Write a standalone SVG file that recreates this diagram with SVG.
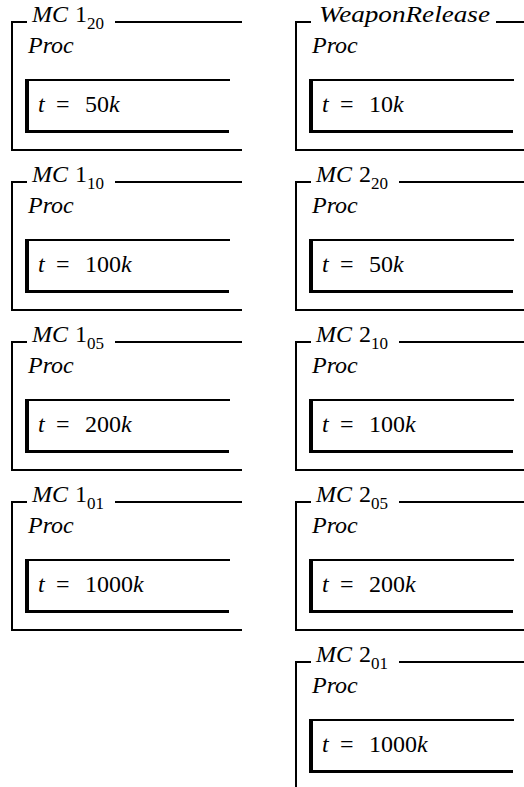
<svg xmlns="http://www.w3.org/2000/svg" width="524" height="787" viewBox="0 0 524 787">
<rect x="0" y="0" width="524" height="787" fill="#fff"/>
<g id="connectors"/>
<g id="MC1_20" fill="#000">
<path d="M11 21h16v2h-16zM115 21h127v2h-127zM11 21h2v130h-2zM11 149h231v2h-231zM25 79h205v2h-205zM25 79h4v54h-4zM25 130h204v3h-204z"/>
<text x="32" y="22" font-family="Liberation Serif" font-size="24" font-style="italic">MC</text>
<text x="75" y="22" font-family="Liberation Serif" font-size="24">1</text>
<text x="87" y="29" font-family="Liberation Serif" font-size="17">20</text>
<text x="28" y="53" font-family="Liberation Serif" font-size="24" font-style="italic">Proc</text>
<text x="38" y="112" font-family="Liberation Serif" font-size="24" font-style="italic">t</text>
<text x="56" y="112" font-family="Liberation Serif" font-size="24">=</text>
<text x="85" y="112" font-family="Liberation Serif" font-size="24">50</text>
<text x="109" y="112" font-family="Liberation Serif" font-size="24" font-style="italic">k</text>
</g>
<g id="MC1_10" fill="#000">
<path d="M11 181h16v2h-16zM115 181h127v2h-127zM11 181h2v130h-2zM11 309h231v2h-231zM25 239h205v2h-205zM25 239h4v54h-4zM25 290h204v3h-204z"/>
<text x="32" y="182" font-family="Liberation Serif" font-size="24" font-style="italic">MC</text>
<text x="75" y="182" font-family="Liberation Serif" font-size="24">1</text>
<text x="87" y="189" font-family="Liberation Serif" font-size="17">10</text>
<text x="28" y="213" font-family="Liberation Serif" font-size="24" font-style="italic">Proc</text>
<text x="38" y="272" font-family="Liberation Serif" font-size="24" font-style="italic">t</text>
<text x="56" y="272" font-family="Liberation Serif" font-size="24">=</text>
<text x="85" y="272" font-family="Liberation Serif" font-size="24">100</text>
<text x="121" y="272" font-family="Liberation Serif" font-size="24" font-style="italic">k</text>
</g>
<g id="MC1_05" fill="#000">
<path d="M11 341h16v2h-16zM115 341h127v2h-127zM11 341h2v130h-2zM11 469h231v2h-231zM25 399h205v2h-205zM25 399h4v54h-4zM25 450h204v3h-204z"/>
<text x="32" y="342" font-family="Liberation Serif" font-size="24" font-style="italic">MC</text>
<text x="75" y="342" font-family="Liberation Serif" font-size="24">1</text>
<text x="87" y="349" font-family="Liberation Serif" font-size="17">05</text>
<text x="28" y="373" font-family="Liberation Serif" font-size="24" font-style="italic">Proc</text>
<text x="38" y="432" font-family="Liberation Serif" font-size="24" font-style="italic">t</text>
<text x="56" y="432" font-family="Liberation Serif" font-size="24">=</text>
<text x="85" y="432" font-family="Liberation Serif" font-size="24">200</text>
<text x="121" y="432" font-family="Liberation Serif" font-size="24" font-style="italic">k</text>
</g>
<g id="MC1_01" fill="#000">
<path d="M11 501h16v2h-16zM115 501h127v2h-127zM11 501h2v130h-2zM11 629h231v2h-231zM25 559h205v2h-205zM25 559h4v54h-4zM25 610h204v3h-204z"/>
<text x="32" y="502" font-family="Liberation Serif" font-size="24" font-style="italic">MC</text>
<text x="75" y="502" font-family="Liberation Serif" font-size="24">1</text>
<text x="87" y="509" font-family="Liberation Serif" font-size="17">01</text>
<text x="28" y="533" font-family="Liberation Serif" font-size="24" font-style="italic">Proc</text>
<text x="38" y="592" font-family="Liberation Serif" font-size="24" font-style="italic">t</text>
<text x="56" y="592" font-family="Liberation Serif" font-size="24">=</text>
<text x="85" y="592" font-family="Liberation Serif" font-size="24">1000</text>
<text x="133" y="592" font-family="Liberation Serif" font-size="24" font-style="italic">k</text>
</g>
<g id="WeaponRelease" fill="#000">
<path d="M295 21h16v2h-16zM496 21h30v2h-30zM295 21h2v130h-2zM295 149h231v2h-231zM309 79h205v2h-205zM309 79h4v54h-4zM309 130h204v3h-204z"/>
<text x="319" y="22" font-family="Liberation Serif" font-size="24" font-style="italic" textLength="171" lengthAdjust="spacingAndGlyphs">WeaponRelease</text>
<text x="312" y="53" font-family="Liberation Serif" font-size="24" font-style="italic">Proc</text>
<text x="322" y="112" font-family="Liberation Serif" font-size="24" font-style="italic">t</text>
<text x="340" y="112" font-family="Liberation Serif" font-size="24">=</text>
<text x="369" y="112" font-family="Liberation Serif" font-size="24">10</text>
<text x="393" y="112" font-family="Liberation Serif" font-size="24" font-style="italic">k</text>
</g>
<g id="MC2_20" fill="#000">
<path d="M295 181h16v2h-16zM399 181h127v2h-127zM295 181h2v130h-2zM295 309h231v2h-231zM309 239h205v2h-205zM309 239h4v54h-4zM309 290h204v3h-204z"/>
<text x="316" y="182" font-family="Liberation Serif" font-size="24" font-style="italic">MC</text>
<text x="359" y="182" font-family="Liberation Serif" font-size="24">2</text>
<text x="371" y="189" font-family="Liberation Serif" font-size="17">20</text>
<text x="312" y="213" font-family="Liberation Serif" font-size="24" font-style="italic">Proc</text>
<text x="322" y="272" font-family="Liberation Serif" font-size="24" font-style="italic">t</text>
<text x="340" y="272" font-family="Liberation Serif" font-size="24">=</text>
<text x="369" y="272" font-family="Liberation Serif" font-size="24">50</text>
<text x="393" y="272" font-family="Liberation Serif" font-size="24" font-style="italic">k</text>
</g>
<g id="MC2_10" fill="#000">
<path d="M295 341h16v2h-16zM399 341h127v2h-127zM295 341h2v130h-2zM295 469h231v2h-231zM309 399h205v2h-205zM309 399h4v54h-4zM309 450h204v3h-204z"/>
<text x="316" y="342" font-family="Liberation Serif" font-size="24" font-style="italic">MC</text>
<text x="359" y="342" font-family="Liberation Serif" font-size="24">2</text>
<text x="371" y="349" font-family="Liberation Serif" font-size="17">10</text>
<text x="312" y="373" font-family="Liberation Serif" font-size="24" font-style="italic">Proc</text>
<text x="322" y="432" font-family="Liberation Serif" font-size="24" font-style="italic">t</text>
<text x="340" y="432" font-family="Liberation Serif" font-size="24">=</text>
<text x="369" y="432" font-family="Liberation Serif" font-size="24">100</text>
<text x="405" y="432" font-family="Liberation Serif" font-size="24" font-style="italic">k</text>
</g>
<g id="MC2_05" fill="#000">
<path d="M295 501h16v2h-16zM399 501h127v2h-127zM295 501h2v130h-2zM295 629h231v2h-231zM309 559h205v2h-205zM309 559h4v54h-4zM309 610h204v3h-204z"/>
<text x="316" y="502" font-family="Liberation Serif" font-size="24" font-style="italic">MC</text>
<text x="359" y="502" font-family="Liberation Serif" font-size="24">2</text>
<text x="371" y="509" font-family="Liberation Serif" font-size="17">05</text>
<text x="312" y="533" font-family="Liberation Serif" font-size="24" font-style="italic">Proc</text>
<text x="322" y="592" font-family="Liberation Serif" font-size="24" font-style="italic">t</text>
<text x="340" y="592" font-family="Liberation Serif" font-size="24">=</text>
<text x="369" y="592" font-family="Liberation Serif" font-size="24">200</text>
<text x="405" y="592" font-family="Liberation Serif" font-size="24" font-style="italic">k</text>
</g>
<g id="MC2_01" fill="#000">
<path d="M295 661h16v2h-16zM399 661h127v2h-127zM295 661h2v130h-2zM309 719h205v2h-205zM309 719h4v54h-4zM309 770h204v3h-204z"/>
<text x="316" y="662" font-family="Liberation Serif" font-size="24" font-style="italic">MC</text>
<text x="359" y="662" font-family="Liberation Serif" font-size="24">2</text>
<text x="371" y="669" font-family="Liberation Serif" font-size="17">01</text>
<text x="312" y="693" font-family="Liberation Serif" font-size="24" font-style="italic">Proc</text>
<text x="322" y="752" font-family="Liberation Serif" font-size="24" font-style="italic">t</text>
<text x="340" y="752" font-family="Liberation Serif" font-size="24">=</text>
<text x="369" y="752" font-family="Liberation Serif" font-size="24">1000</text>
<text x="417" y="752" font-family="Liberation Serif" font-size="24" font-style="italic">k</text>
</g>
</svg>
